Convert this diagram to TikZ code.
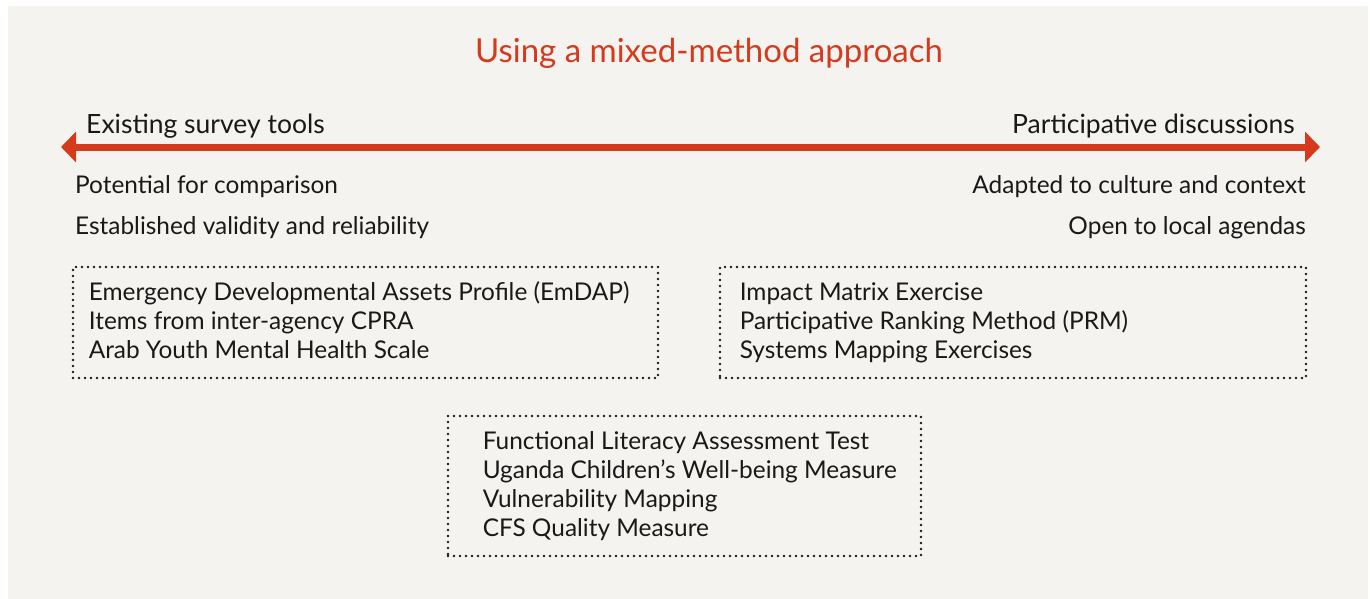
\documentclass[tikz,border=0pt]{standalone}
\usepackage{fontspec}
\setmainfont{Lato}
\usetikzlibrary{positioning}
\usetikzlibrary{arrows.meta}

\definecolor{bgpaper}{HTML}{F4F3F0}
\definecolor{redline}{HTML}{D63A1C}

\begin{document}
\begin{tikzpicture}[
x=1pt, y=-1pt,
titletext/.style={text=redline, font=\fontsize{33}{38}\selectfont, inner sep=0pt},
endtext/.style={text=black!90, font=\fontsize{26.5}{30}\selectfont, inner sep=0pt},
notetext/.style={text=black!90, font=\fontsize{24.4}{28}\selectfont, inner sep=0pt},
dotbox/.style={rectangle, draw=black!90, line width=2.8pt, dash pattern=on 0pt off 6pt, line cap=round},
listtext/.style={text=black!90, font=\fontsize{24.4}{29}\selectfont, align=left, inner sep=0pt},
]
\useasboundingbox (0,0) rectangle (1370,599);
\fill[bgpaper] (8,6) rectangle (1368,599);

%Nodes
\node[titletext, anchor=base]      (title)     at (709,63)   {Using a mixed-method approach};
\node[endtext, anchor=base west]   (survey)    at (86,134)   {Existing survey tools};
\node[endtext, anchor=base east]   (particip)  at (1295,134) {Participative discussions};

\node[notetext, anchor=base west]  (compare)   at (75,193)   {Potential for comparison};
\node[notetext, anchor=base west]  (valid)     at (75,234)   {Established validity and reliability};
\node[notetext, anchor=base east]  (culture)   at (1306,193) {Adapted to culture and context};
\node[notetext, anchor=base east]  (agenda)    at (1306,234) {Open to local agendas};

\node[dotbox, minimum width=585, minimum height=111] (surveybox) at (365.5,322.5) {};
\node[dotbox, minimum width=586, minimum height=111] (partbox)   at (1013,322.5)  {};
\node[dotbox, minimum width=473, minimum height=140] (mixbox)    at (684.5,486)   {};

\node[listtext, yshift=2pt] (surveylist) [right=17 of surveybox.west] {Emergency Developmental Assets Profile (EmDAP)\\Items from inter-agency CPRA\\Arab Youth Mental Health Scale};
\node[listtext] (partlist)   [right=21 of partbox.west]   {Impact Matrix Exercise\\Participative Ranking Method (PRM)\\Systems Mapping Exercises};
\node[listtext] (mixlist)    [right=36 of mixbox.west]    {Functional Literacy Assessment Test\\Uganda Children’s Well-being Measure\\Vulnerability Mapping\\CFS Quality Measure};

%Lines
\coordinate (leftend)  at (61,147);
\coordinate (rightend) at (1320,147);
\draw[redline, line width=7pt, {Triangle[length=15pt, width=30pt]}-{Triangle[length=15pt, width=30pt]}] (leftend) -- (rightend);
\end{tikzpicture}
\end{document}
